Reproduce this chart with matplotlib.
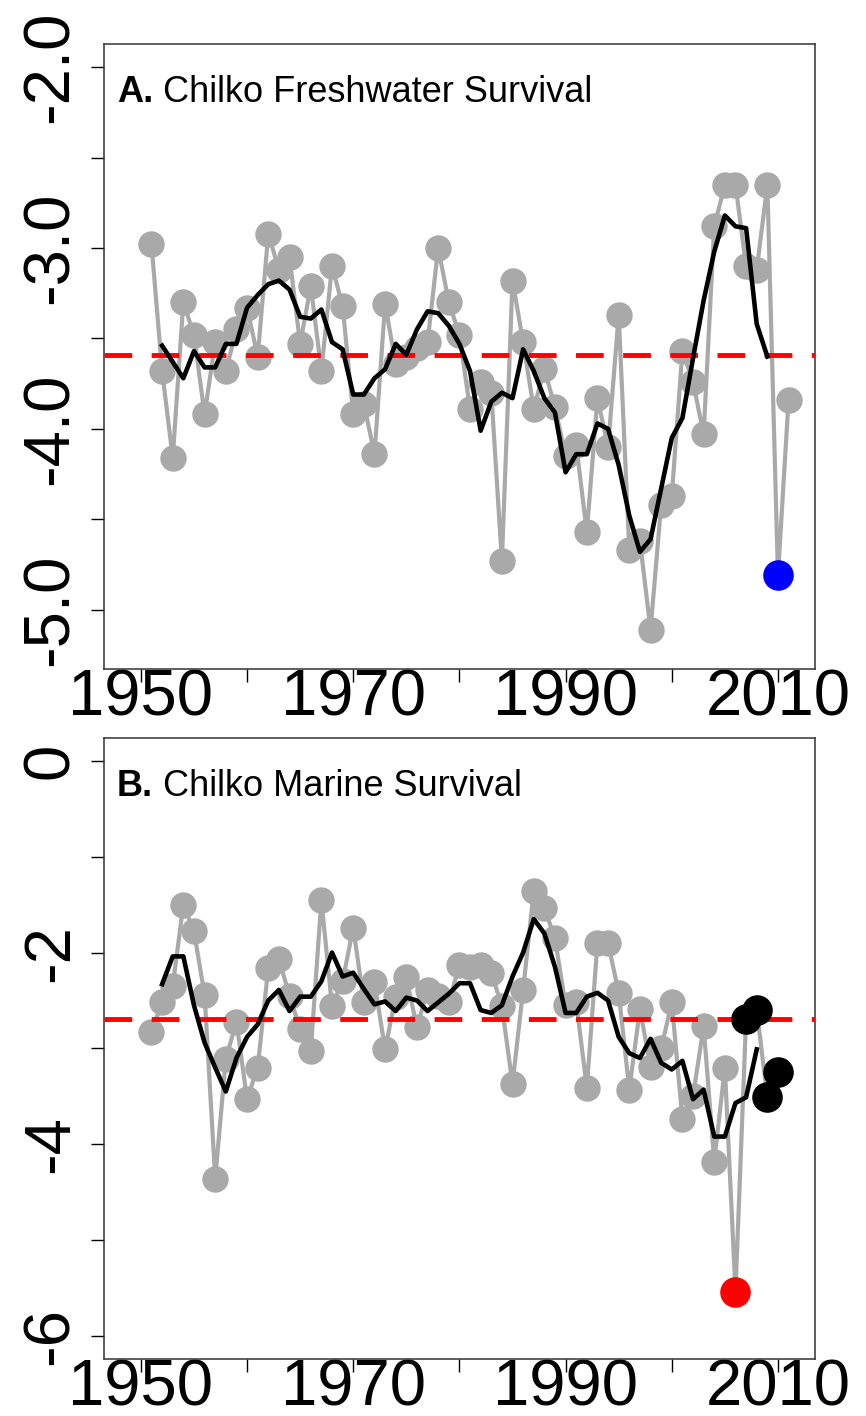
import numpy as np
import matplotlib.pyplot as plt
from matplotlib.ticker import FixedLocator, FuncFormatter

plt.rcParams['font.family'] = ['Liberation Sans', 'DejaVu Sans']

# ---- A. freshwater survival (log), brood years 1951-2011
fw_years = np.arange(1951, 2012)
fw_surv = [-2.98, -3.68, -4.16, -3.30, -3.48, -3.92, -3.52, -3.68, -3.45, -3.33,
           -3.60, -2.92, -3.12, -3.05, -3.53, -3.21, -3.68, -3.10, -3.32, -3.92,
           -3.86, -4.14, -3.31, -3.64, -3.60, -3.55, -3.52, -3.00, -3.30, -3.48,
           -3.89, -3.74, -3.80, -4.73, -3.18, -3.52, -3.89, -3.67, -3.88, -4.15,
           -4.09, -4.57, -3.83, -4.10, -3.37, -4.67, -4.62, -5.11, -4.42, -4.37,
           -3.57, -3.74, -4.03, -2.88, -2.65, -2.65, -3.10, -3.12, -2.65, -4.81,
           -3.84]
fw_avg_years = np.arange(1952, 2010)
fw_avg = [-3.54, -3.63, -3.72, -3.57, -3.66, -3.66, -3.53, -3.53, -3.33, -3.26,
          -3.20, -3.18, -3.23, -3.38, -3.39, -3.34, -3.52, -3.56, -3.81, -3.81,
          -3.72, -3.67, -3.53, -3.59, -3.45, -3.35, -3.36, -3.43, -3.53, -3.68,
          -4.01, -3.85, -3.80, -3.83, -3.56, -3.68, -3.83, -3.91, -4.24, -4.14,
          -4.14, -3.97, -4.00, -4.20, -4.48, -4.68, -4.61, -4.33, -4.05, -3.94,
          -3.61, -3.29, -3.02, -2.82, -2.88, -2.89, -3.42, -3.60]
fw_mean = -3.59
fw_flag_year = 2010

# ---- B. marine survival (log), brood years 1951-2010
ms_years = np.arange(1951, 2011)
ms_surv = [-2.83, -2.52, -2.35, -1.50, -1.78, -2.44, -4.36, -3.11, -2.72, -3.53,
           -3.20, -2.16, -2.07, -2.45, -2.80, -3.03, -1.45, -2.56, -2.30, -1.74,
           -2.52, -2.31, -3.01, -2.46, -2.26, -2.78, -2.39, -2.45, -2.52, -2.13,
           -2.15, -2.13, -2.21, -2.56, -3.37, -2.39, -1.36, -1.54, -1.85, -2.55,
           -2.52, -3.41, -1.90, -1.90, -2.42, -3.43, -2.59, -3.19, -3.00, -2.52,
           -3.74, -3.50, -2.77, -4.18, -3.20, -5.54, -2.69, -2.60, -3.51, -3.25]
ms_avg_years = np.arange(1952, 2009)
ms_avg = [-2.33, -2.04, -2.04, -2.55, -2.94, -3.20, -3.45, -3.10, -2.88, -2.75,
          -2.50, -2.39, -2.61, -2.46, -2.46, -2.30, -2.00, -2.25, -2.21, -2.38,
          -2.54, -2.51, -2.61, -2.47, -2.50, -2.61, -2.52, -2.43, -2.32, -2.32,
          -2.60, -2.63, -2.55, -2.25, -2.00, -1.65, -1.80, -2.15, -2.63, -2.63,
          -2.46, -2.42, -2.50, -2.88, -3.05, -3.10, -2.90, -3.15, -3.22, -3.13,
          -3.53, -3.43, -3.92, -3.92, -3.57, -3.51, -3.01]
ms_mean = -2.69
ms_flag_year = 2006
ms_recent_years = [2007, 2008, 2009, 2010]

GREY = '#a9a9a9'
TICK_FS = 47


def draw_panel(ax, years, surv, avg_years, avg, mean, ylim, yticks, ylabels, title):
    ax.plot(years, surv, '-o', color=GREY, lw=3, ms=18, mec=GREY, zorder=2)
    ax.axhline(mean, color='red', lw=3.5, ls=(0, (5.7, 4.0)), zorder=3)
    ax.plot(avg_years, avg, color='black', lw=3.3, zorder=4)

    ax.set_xlim(1946.52, 2013.48)
    ax.set_ylim(*ylim)
    ax.xaxis.set_major_locator(FixedLocator(range(1950, 2011, 10)))
    ax.xaxis.set_major_formatter(FuncFormatter(
        lambda v, p: '%d' % v if int(round(v)) % 20 == 10 else ''))
    ax.yaxis.set_major_locator(FixedLocator(yticks))
    ax.yaxis.set_major_formatter(FuncFormatter(
        lambda v, p: ylabels.get(round(v, 2), '')))
    ax.tick_params(axis='both', length=9.5, width=1, labelsize=TICK_FS, direction='out')
    ax.tick_params(axis='x', pad=-10)
    ax.tick_params(axis='y', pad=7)
    for lab in ax.get_yticklabels():
        lab.set_rotation(90)
        lab.set_va('center')
    for s in ax.spines.values():
        s.set_linewidth(1.1)
        s.set_color('#333333')

    letter, rest = title
    t1 = ax.text(0.018, 0.922, letter, transform=ax.transAxes, fontsize=26,
                 fontweight='bold', va='center', ha='left')
    ax.annotate(rest, xy=(1, 0), xycoords=t1, xytext=(0, 0),
                textcoords='offset points', fontsize=26, va='bottom', ha='left')


fig = plt.figure(figsize=(8.66, 14.16), dpi=100)
ax1 = fig.add_axes([0.120, 0.5275, 0.821, 0.4414])
ax2 = fig.add_axes([0.120, 0.0403, 0.821, 0.4386])

draw_panel(ax1, fw_years, fw_surv, fw_avg_years, fw_avg, fw_mean,
           (-5.328, -1.872), np.arange(-5.0, -1.99, 0.5),
           {-2.0: '-2.0', -3.0: '-3.0', -4.0: '-4.0', -5.0: '-5.0'},
           ('A.', ' Chilko Freshwater Survival'))
i = list(fw_years).index(fw_flag_year)
ax1.plot(fw_years[i], fw_surv[i], 'o', color='#0000ff', ms=21, zorder=5)

draw_panel(ax2, ms_years, ms_surv, ms_avg_years, ms_avg, ms_mean,
           (-6.24, 0.24), np.arange(-6, 0.5, 1),
           {0.0: '0', -2.0: '-2', -4.0: '-4', -6.0: '-6'},
           ('B.', ' Chilko Marine Survival'))
i = list(ms_years).index(ms_flag_year)
ax2.plot(ms_years[i], ms_surv[i], 'o', color='#ff0000', ms=21, zorder=5)
idx = [list(ms_years).index(y) for y in ms_recent_years]
ax2.plot(ms_years[idx], np.array(ms_surv)[idx], 'o', color='black', ms=21, zorder=5)

fig.savefig('out.png', dpi=100, facecolor='white')
